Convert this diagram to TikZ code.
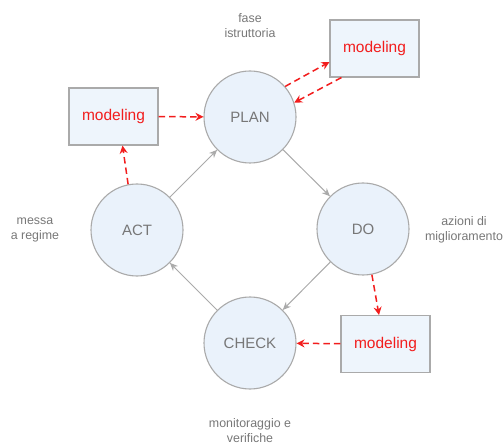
\documentclass[tikz,border=0pt]{standalone}
\usepackage{fontspec}
\setmainfont{Liberation Sans}
\usetikzlibrary{arrows.meta, positioning}

\definecolor{phasefill}{HTML}{EAF2FB}
\definecolor{phasegray}{HTML}{AAAAAA}
\definecolor{labelgray}{HTML}{777777}
\definecolor{modred}{HTML}{F21D1D}

\begin{document}
\begin{tikzpicture}[x=1pt, y=-1pt,
  phase/.style={circle, draw=phasegray, line width=1.1pt, fill=phasefill,
    minimum size=92pt, inner sep=0pt, text=labelgray, font=\fontsize{15}{18}\selectfont},
  model/.style={rectangle, draw=phasegray, line width=1.1pt, fill=phasefill!80!white,
    minimum width=89pt, minimum height=57pt, text=modred, font=\fontsize{15.5}{18}\selectfont},
  note/.style={align=center, text=labelgray, font=\fontsize{12.4}{15}\selectfont},
  cyc/.style={draw=phasegray, line width=1pt, -{Stealth[length=8pt, width=7pt]}},
  feed/.style={draw=modred, line width=1.5pt, dash pattern=on 6.5pt off 4pt,
    -{Stealth[length=8pt, width=8pt]}}]

\useasboundingbox (0,0) rectangle (503,446);

% PHASES
\node[phase] (P) at (250,117) {PLAN};
\node[phase] (D) at (363,229) {DO};
\node[phase] (C) at (250,343) {CHECK};
\node[phase] (A) at (137,230) {ACT};

% MODELING BOXES
\node[model] (M1) at (113.5,116.5) {modeling};
\node[model] (M2) at (374.5,48.5) {modeling};
\node[model] (M3) at (385.5,344) {modeling};

% NOTES
\node[note] (fase) at (250,25.5) {fase\\istruttoria};
\node[note] (messa) at (35,230) {messa\\a regime};
\node[note] (azioni) at (464,230) {azioni di\\miglioramento};
\node[note] (monit) at (250,430.5) {monitoraggio e\\verifiche};

% CYCLE
\draw[cyc] (A) -- (P);
\draw[cyc] (P) -- (D);
\draw[cyc] (D) -- (C);
\draw[cyc] (C) -- (A);

% MODELING LINKS
\draw[feed] (M1) -- (P);
\draw[feed] (A.101) -- ([xshift=9pt]M1.south);
\draw[feed] (P.41) -- ([yshift=-13.5pt]M2.west);
\draw[feed] ([xshift=12pt]M2.south west) -- (P.18);
\draw[feed] (D.-79) -- ([xshift=-6.5pt]M3.north);
\draw[feed] (M3) -- (C);

\end{tikzpicture}
\end{document}
